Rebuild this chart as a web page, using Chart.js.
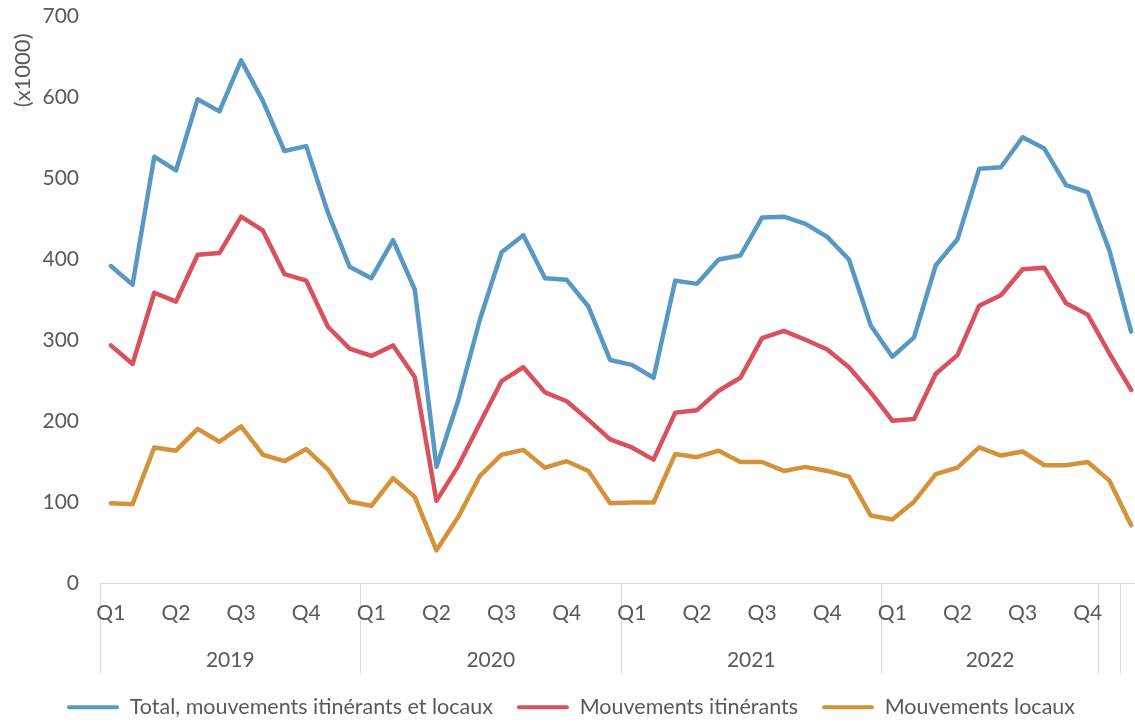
<!DOCTYPE html>
<html lang="fr">
<head>
    <meta charset="UTF-8">
    <title>Mouvements itinérants et locaux</title>
    <script src="https://cdn.jsdelivr.net/npm/chart.js"></script>
    <style>
        html, body {
            margin: 0;
            padding: 0;
            background: #ffffff;
            overflow: hidden;
        }
        .chart-box {
            position: relative;
            width: 1142px;
            height: 728px;
        }
    </style>
</head>
<body>

<div class="chart-box">
    <canvas id="mouvementsChart"></canvas>
</div>

<script>
    // groupes de l'axe horizontal (années) et nombre de mois par groupe
    const yearLabels = ['2019', '2020', '2021', '2022', '', ''];
    const monthsPerGroup = [12, 12, 12, 10, 1, 1];
    const quarterLabels = ['Q1', 'Q2', 'Q3', 'Q4'];

    // séries mensuelles (x1000)
    const total = [392, 369, 527, 510, 598, 583, 646, 596, 534, 540, 458, 391,
                   377, 424, 363, 144, 226, 326, 409, 430, 377, 375, 342, 276,
                   270, 254, 374, 370, 400, 405, 452, 453, 444, 428, 400, 319,
                   280, 304, 393, 425, 512, 514, 551, 537, 492, 483, 411, 311];
    const itinerants = [294, 271, 359, 348, 406, 408, 453, 436, 382, 374, 317, 290,
                        281, 294, 255, 102, 145, 198, 250, 267, 236, 225, 202, 178,
                        168, 153, 211, 214, 238, 254, 303, 312, 301, 289, 267, 236,
                        201, 203, 259, 282, 343, 356, 388, 390, 346, 332, 284, 239];
    const locaux = [99, 98, 168, 164, 191, 175, 194, 159, 151, 166, 141, 101,
                    96, 130, 107, 41, 82, 133, 159, 165, 143, 151, 139, 99,
                    100, 100, 160, 156, 164, 150, 150, 139, 144, 139, 132, 84,
                    79, 101, 135, 143, 168, 158, 163, 146, 146, 150, 127, 72];

    const seriesNames = ['Total, mouvements itinérants et locaux', 'Mouvements itinérants', 'Mouvements locaux'];
    const seriesColors = ['#5899C4', '#D9515D', '#D4923A'];

    const textColor = '#595959';
    const fontFamily = 'Lato, "Open Sans", sans-serif';
    const font = { family: fontFamily, size: 21 };

    // catégories mensuelles, limites et centres des groupes
    const categories = [];
    const tickText = [];
    const boundaries = new Set();
    const yearCenters = [];
    const yearShown = [];
    let start = 0;
    yearLabels.forEach((year, g) => {
        boundaries.add(start);
        for (let m = 0; m < monthsPerGroup[g]; m++) {
            categories.push((year || yearLabels[3]) + '-' + (start + m));
            tickText.push(year && m % 3 === 0 ? quarterLabels[m / 3] : '');
        }
        if (year) {
            yearCenters.push(start + monthsPerGroup[g] / 2);
            yearShown.push(year);
        }
        start += monthsPerGroup[g];
    });

    const ctx = document.getElementById('mouvementsChart').getContext('2d');
    const mouvementsChart = new Chart(ctx, {
        type: 'line',
        data: {
            labels: categories,
            datasets: [total, itinerants, locaux].map((values, i) => ({
                label: seriesNames[i],
                data: values,
                borderColor: seriesColors[i],
                backgroundColor: seriesColors[i],
                borderWidth: 4.5,
                borderCapStyle: 'round',
                borderJoinStyle: 'round',
                pointRadius: 0,
                fill: false,
                tension: 0
            }))
        },
        options: {
            responsive: true,
            maintainAspectRatio: false,
            animation: false,
            layout: { padding: { top: 16, left: 0, right: 0, bottom: 0 } },
            plugins: {
                legend: {
                    position: 'bottom',
                    labels: {
                        boxWidth: 52,
                        boxHeight: 4,
                        padding: 24,
                        color: textColor,
                        font: { family: fontFamily, size: 21.5 },
                        useBorderRadius: true,
                        borderRadius: 2,
                        generateLabels(chart) {
                            return Chart.defaults.plugins.legend.labels.generateLabels(chart)
                                .map(item => Object.assign(item, { lineWidth: 0 }));
                        }
                    }
                },
                tooltip: { enabled: false }
            },
            scales: {
                x: {
                    type: 'category',
                    offset: true,
                    weight: 0,
                    grid: {
                        offset: true,
                        drawOnChartArea: false,
                        drawTicks: true,
                        tickLength: 90,
                        lineWidth: 1,
                        color: c => (c.index !== undefined && boundaries.has(c.index)) ? '#D9D9D9' : 'rgba(0,0,0,0)'
                    },
                    border: { display: true, color: '#D9D9D9', width: 1 },
                    ticks: {
                        autoSkip: false,
                        maxRotation: 0,
                        minRotation: 0,
                        padding: -73,
                        color: textColor,
                        font: font,
                        callback: (value, index) => tickText[index]
                    },
                    afterFit(scale) { scale.height = 45; }
                },
                x2: {
                    type: 'linear',
                    position: 'bottom',
                    weight: 1,
                    min: 0,
                    max: categories.length,
                    grid: { display: false, drawTicks: false },
                    border: { display: false },
                    afterBuildTicks(scale) {
                        scale.ticks = yearCenters.map(v => ({ value: v }));
                    },
                    ticks: {
                        padding: 19,
                        maxRotation: 0,
                        color: textColor,
                        font: font,
                        callback: (value, index) => yearShown[index]
                    },
                    afterFit(scale) { scale.height = 44; }
                },
                y: {
                    min: 0,
                    max: 700,
                    grid: {
                        display: true,
                        drawOnChartArea: false,
                        drawTicks: true,
                        tickLength: 17,
                        color: 'rgba(0,0,0,0)'
                    },
                    border: { display: false },
                    ticks: {
                        stepSize: 100,
                        padding: 4,
                        color: textColor,
                        font: font
                    },
                    title: {
                        display: true,
                        text: '(x1000)   ',
                        align: 'end',
                        color: textColor,
                        font: { family: fontFamily, size: 22 },
                        padding: { top: 10, bottom: 0 }
                    },
                    afterFit(scale) { scale.width = 100; }
                }
            }
        }
    });
</script>

</body>
</html>
